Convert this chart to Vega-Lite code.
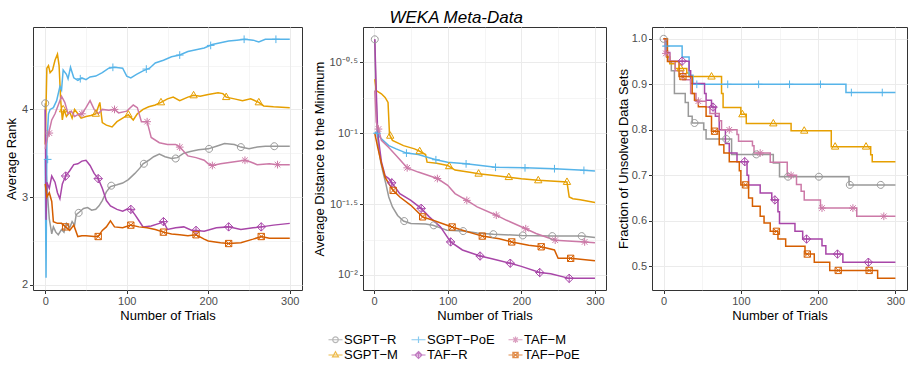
{
"$schema": "https://vega.github.io/schema/vega-lite/v6.json",
"background": "white",
"padding": {"left": 4, "top": 8, "right": 0, "bottom": 0},
"title": {"text": "WEKA Meta-Data", "fontStyle": "italic", "fontSize": 17, "fontWeight": "normal", "font": "Liberation Sans", "anchor": "middle", "offset": 0, "color": "black"},
"config": {
  "font": "Liberation Sans",
  "view": {"stroke": "#333333", "strokeWidth": 1},
  "axis": {"domain": false, "tickColor": "#333333", "tickSize": 3.5, "labelColor": "#4d4d4d", "labelFontSize": 11, "labelFont": "Liberation Sans", "titleFont": "Liberation Sans", "titleFontSize": 13, "titleFontWeight": "normal", "titleColor": "black", "gridColor": "#ebebeb", "labelPadding": 2, "titlePadding": 3}
},
"spacing": 9,
"resolve": {"scale": {"color": "independent", "shape": "independent"}, "legend": {"color": "independent", "shape": "independent"}},
"datasets": {
"a": [
{"m":"SGPT-R","t":0,"v":4.07},{"m":"SGPT-R","t":1,"v":3.3},{"m":"SGPT-R","t":3,"v":3.0},{"m":"SGPT-R","t":5,"v":2.75},{"m":"SGPT-R","t":8,"v":2.58},{"m":"SGPT-R","t":10,"v":2.66},{"m":"SGPT-R","t":13,"v":2.6},{"m":"SGPT-R","t":16,"v":2.57},{"m":"SGPT-R","t":20,"v":2.63},{"m":"SGPT-R","t":23,"v":2.6},{"m":"SGPT-R","t":26,"v":2.7},{"m":"SGPT-R","t":30,"v":2.65},{"m":"SGPT-R","t":33,"v":2.72},{"m":"SGPT-R","t":36,"v":2.68},{"m":"SGPT-R","t":38,"v":2.8},{"m":"SGPT-R","t":42,"v":2.83},{"m":"SGPT-R","t":47,"v":2.87},{"m":"SGPT-R","t":52,"v":2.88},{"m":"SGPT-R","t":57,"v":2.85},{"m":"SGPT-R","t":62,"v":2.86},{"m":"SGPT-R","t":66,"v":2.9},{"m":"SGPT-R","t":70,"v":2.96},{"m":"SGPT-R","t":75,"v":3.06},{"m":"SGPT-R","t":80,"v":3.12},{"m":"SGPT-R","t":88,"v":3.14},{"m":"SGPT-R","t":95,"v":3.16},{"m":"SGPT-R","t":102,"v":3.2},{"m":"SGPT-R","t":110,"v":3.27},{"m":"SGPT-R","t":116,"v":3.33},{"m":"SGPT-R","t":120,"v":3.38},{"m":"SGPT-R","t":127,"v":3.42},{"m":"SGPT-R","t":133,"v":3.46},{"m":"SGPT-R","t":140,"v":3.49},{"m":"SGPT-R","t":147,"v":3.46},{"m":"SGPT-R","t":155,"v":3.44},{"m":"SGPT-R","t":162,"v":3.45},{"m":"SGPT-R","t":170,"v":3.5},{"m":"SGPT-R","t":178,"v":3.52},{"m":"SGPT-R","t":188,"v":3.54},{"m":"SGPT-R","t":200,"v":3.55},{"m":"SGPT-R","t":210,"v":3.58},{"m":"SGPT-R","t":220,"v":3.61},{"m":"SGPT-R","t":232,"v":3.6},{"m":"SGPT-R","t":240,"v":3.57},{"m":"SGPT-R","t":250,"v":3.55},{"m":"SGPT-R","t":260,"v":3.57},{"m":"SGPT-R","t":270,"v":3.58},{"m":"SGPT-R","t":300,"v":3.58},
{"m":"SGPT-M","t":0,"v":3.6},{"m":"SGPT-M","t":2,"v":4.47},{"m":"SGPT-M","t":4,"v":4.5},{"m":"SGPT-M","t":6,"v":4.42},{"m":"SGPT-M","t":9,"v":4.45},{"m":"SGPT-M","t":12,"v":4.56},{"m":"SGPT-M","t":15,"v":4.63},{"m":"SGPT-M","t":17,"v":4.5},{"m":"SGPT-M","t":19,"v":4.1},{"m":"SGPT-M","t":21,"v":3.88},{"m":"SGPT-M","t":23,"v":4.0},{"m":"SGPT-M","t":26,"v":3.92},{"m":"SGPT-M","t":30,"v":3.97},{"m":"SGPT-M","t":33,"v":3.9},{"m":"SGPT-M","t":36,"v":4.0},{"m":"SGPT-M","t":40,"v":3.95},{"m":"SGPT-M","t":44,"v":3.9},{"m":"SGPT-M","t":50,"v":3.92},{"m":"SGPT-M","t":56,"v":3.93},{"m":"SGPT-M","t":62,"v":3.95},{"m":"SGPT-M","t":67,"v":4.08},{"m":"SGPT-M","t":70,"v":3.85},{"m":"SGPT-M","t":75,"v":3.82},{"m":"SGPT-M","t":82,"v":3.8},{"m":"SGPT-M","t":88,"v":3.86},{"m":"SGPT-M","t":95,"v":3.9},{"m":"SGPT-M","t":102,"v":3.94},{"m":"SGPT-M","t":108,"v":3.88},{"m":"SGPT-M","t":113,"v":3.95},{"m":"SGPT-M","t":120,"v":4.0},{"m":"SGPT-M","t":127,"v":4.03},{"m":"SGPT-M","t":135,"v":4.05},{"m":"SGPT-M","t":142,"v":4.08},{"m":"SGPT-M","t":150,"v":4.12},{"m":"SGPT-M","t":157,"v":4.14},{"m":"SGPT-M","t":165,"v":4.1},{"m":"SGPT-M","t":175,"v":4.14},{"m":"SGPT-M","t":182,"v":4.16},{"m":"SGPT-M","t":190,"v":4.15},{"m":"SGPT-M","t":200,"v":4.17},{"m":"SGPT-M","t":212,"v":4.19},{"m":"SGPT-M","t":218,"v":4.18},{"m":"SGPT-M","t":222,"v":4.14},{"m":"SGPT-M","t":232,"v":4.12},{"m":"SGPT-M","t":242,"v":4.1},{"m":"SGPT-M","t":252,"v":4.12},{"m":"SGPT-M","t":262,"v":4.08},{"m":"SGPT-M","t":268,"v":4.04},{"m":"SGPT-M","t":280,"v":4.03},{"m":"SGPT-M","t":300,"v":4.02},
{"m":"SGPT-PoE","t":0,"v":3.43},{"m":"SGPT-PoE","t":1,"v":2.08},{"m":"SGPT-PoE","t":2,"v":3.6},{"m":"SGPT-PoE","t":4,"v":3.95},{"m":"SGPT-PoE","t":6,"v":4.0},{"m":"SGPT-PoE","t":10,"v":4.02},{"m":"SGPT-PoE","t":14,"v":4.1},{"m":"SGPT-PoE","t":18,"v":4.26},{"m":"SGPT-PoE","t":20,"v":4.22},{"m":"SGPT-PoE","t":22,"v":4.45},{"m":"SGPT-PoE","t":26,"v":4.4},{"m":"SGPT-PoE","t":28,"v":4.35},{"m":"SGPT-PoE","t":31,"v":4.48},{"m":"SGPT-PoE","t":35,"v":4.36},{"m":"SGPT-PoE","t":40,"v":4.33},{"m":"SGPT-PoE","t":45,"v":4.36},{"m":"SGPT-PoE","t":50,"v":4.34},{"m":"SGPT-PoE","t":55,"v":4.37},{"m":"SGPT-PoE","t":62,"v":4.38},{"m":"SGPT-PoE","t":70,"v":4.42},{"m":"SGPT-PoE","t":78,"v":4.47},{"m":"SGPT-PoE","t":85,"v":4.48},{"m":"SGPT-PoE","t":95,"v":4.47},{"m":"SGPT-PoE","t":100,"v":4.38},{"m":"SGPT-PoE","t":105,"v":4.36},{"m":"SGPT-PoE","t":112,"v":4.4},{"m":"SGPT-PoE","t":120,"v":4.44},{"m":"SGPT-PoE","t":128,"v":4.47},{"m":"SGPT-PoE","t":135,"v":4.53},{"m":"SGPT-PoE","t":145,"v":4.56},{"m":"SGPT-PoE","t":155,"v":4.6},{"m":"SGPT-PoE","t":165,"v":4.62},{"m":"SGPT-PoE","t":175,"v":4.66},{"m":"SGPT-PoE","t":185,"v":4.68},{"m":"SGPT-PoE","t":195,"v":4.7},{"m":"SGPT-PoE","t":205,"v":4.74},{"m":"SGPT-PoE","t":215,"v":4.76},{"m":"SGPT-PoE","t":225,"v":4.78},{"m":"SGPT-PoE","t":235,"v":4.79},{"m":"SGPT-PoE","t":245,"v":4.8},{"m":"SGPT-PoE","t":255,"v":4.79},{"m":"SGPT-PoE","t":262,"v":4.77},{"m":"SGPT-PoE","t":270,"v":4.8},{"m":"SGPT-PoE","t":300,"v":4.8},
{"m":"TAF-R","t":0,"v":4.0},{"m":"TAF-R","t":1,"v":2.74},{"m":"TAF-R","t":2,"v":3.17},{"m":"TAF-R","t":5,"v":3.1},{"m":"TAF-R","t":8,"v":3.24},{"m":"TAF-R","t":12,"v":3.17},{"m":"TAF-R","t":15,"v":3.05},{"m":"TAF-R","t":18,"v":2.98},{"m":"TAF-R","t":21,"v":3.15},{"m":"TAF-R","t":25,"v":3.24},{"m":"TAF-R","t":30,"v":3.3},{"m":"TAF-R","t":35,"v":3.37},{"m":"TAF-R","t":40,"v":3.38},{"m":"TAF-R","t":45,"v":3.41},{"m":"TAF-R","t":50,"v":3.42},{"m":"TAF-R","t":55,"v":3.36},{"m":"TAF-R","t":60,"v":3.27},{"m":"TAF-R","t":65,"v":3.21},{"m":"TAF-R","t":70,"v":3.1},{"m":"TAF-R","t":75,"v":2.96},{"m":"TAF-R","t":80,"v":2.9},{"m":"TAF-R","t":88,"v":2.86},{"m":"TAF-R","t":95,"v":2.84},{"m":"TAF-R","t":100,"v":2.86},{"m":"TAF-R","t":105,"v":2.86},{"m":"TAF-R","t":110,"v":2.8},{"m":"TAF-R","t":115,"v":2.73},{"m":"TAF-R","t":120,"v":2.66},{"m":"TAF-R","t":130,"v":2.67},{"m":"TAF-R","t":140,"v":2.7},{"m":"TAF-R","t":145,"v":2.72},{"m":"TAF-R","t":150,"v":2.63},{"m":"TAF-R","t":160,"v":2.65},{"m":"TAF-R","t":170,"v":2.66},{"m":"TAF-R","t":180,"v":2.62},{"m":"TAF-R","t":185,"v":2.62},{"m":"TAF-R","t":195,"v":2.61},{"m":"TAF-R","t":210,"v":2.65},{"m":"TAF-R","t":225,"v":2.66},{"m":"TAF-R","t":240,"v":2.63},{"m":"TAF-R","t":255,"v":2.65},{"m":"TAF-R","t":265,"v":2.66},{"m":"TAF-R","t":280,"v":2.68},{"m":"TAF-R","t":300,"v":2.7},
{"m":"TAF-M","t":0,"v":3.55},{"m":"TAF-M","t":2,"v":3.65},{"m":"TAF-M","t":4,"v":3.72},{"m":"TAF-M","t":8,"v":3.88},{"m":"TAF-M","t":12,"v":3.95},{"m":"TAF-M","t":16,"v":4.05},{"m":"TAF-M","t":20,"v":4.15},{"m":"TAF-M","t":24,"v":4.08},{"m":"TAF-M","t":28,"v":3.95},{"m":"TAF-M","t":32,"v":3.98},{"m":"TAF-M","t":36,"v":3.92},{"m":"TAF-M","t":40,"v":3.94},{"m":"TAF-M","t":45,"v":3.95},{"m":"TAF-M","t":50,"v":4.02},{"m":"TAF-M","t":55,"v":4.1},{"m":"TAF-M","t":60,"v":4.0},{"m":"TAF-M","t":65,"v":3.95},{"m":"TAF-M","t":70,"v":4.0},{"m":"TAF-M","t":78,"v":3.99},{"m":"TAF-M","t":85,"v":4.0},{"m":"TAF-M","t":90,"v":3.96},{"m":"TAF-M","t":100,"v":3.98},{"m":"TAF-M","t":108,"v":4.05},{"m":"TAF-M","t":113,"v":4.02},{"m":"TAF-M","t":118,"v":3.86},{"m":"TAF-M","t":125,"v":3.86},{"m":"TAF-M","t":130,"v":3.68},{"m":"TAF-M","t":140,"v":3.62},{"m":"TAF-M","t":150,"v":3.6},{"m":"TAF-M","t":160,"v":3.6},{"m":"TAF-M","t":165,"v":3.57},{"m":"TAF-M","t":175,"v":3.47},{"m":"TAF-M","t":185,"v":3.45},{"m":"TAF-M","t":195,"v":3.42},{"m":"TAF-M","t":200,"v":3.38},{"m":"TAF-M","t":205,"v":3.36},{"m":"TAF-M","t":215,"v":3.38},{"m":"TAF-M","t":230,"v":3.4},{"m":"TAF-M","t":245,"v":3.42},{"m":"TAF-M","t":252,"v":3.4},{"m":"TAF-M","t":260,"v":3.37},{"m":"TAF-M","t":275,"v":3.38},{"m":"TAF-M","t":285,"v":3.37},{"m":"TAF-M","t":300,"v":3.37},
{"m":"TAF-PoE","t":0,"v":3.15},{"m":"TAF-PoE","t":2,"v":3.0},{"m":"TAF-PoE","t":5,"v":3.05},{"m":"TAF-PoE","t":8,"v":2.95},{"m":"TAF-PoE","t":10,"v":2.72},{"m":"TAF-PoE","t":15,"v":2.7},{"m":"TAF-PoE","t":20,"v":2.7},{"m":"TAF-PoE","t":25,"v":2.66},{"m":"TAF-PoE","t":30,"v":2.62},{"m":"TAF-PoE","t":35,"v":2.68},{"m":"TAF-PoE","t":40,"v":2.55},{"m":"TAF-PoE","t":45,"v":2.56},{"m":"TAF-PoE","t":50,"v":2.56},{"m":"TAF-PoE","t":60,"v":2.55},{"m":"TAF-PoE","t":65,"v":2.55},{"m":"TAF-PoE","t":70,"v":2.62},{"m":"TAF-PoE","t":75,"v":2.66},{"m":"TAF-PoE","t":80,"v":2.73},{"m":"TAF-PoE","t":85,"v":2.66},{"m":"TAF-PoE","t":95,"v":2.65},{"m":"TAF-PoE","t":105,"v":2.68},{"m":"TAF-PoE","t":115,"v":2.66},{"m":"TAF-PoE","t":125,"v":2.65},{"m":"TAF-PoE","t":135,"v":2.63},{"m":"TAF-PoE","t":145,"v":2.6},{"m":"TAF-PoE","t":155,"v":2.58},{"m":"TAF-PoE","t":165,"v":2.57},{"m":"TAF-PoE","t":175,"v":2.56},{"m":"TAF-PoE","t":185,"v":2.57},{"m":"TAF-PoE","t":195,"v":2.52},{"m":"TAF-PoE","t":200,"v":2.5},{"m":"TAF-PoE","t":215,"v":2.48},{"m":"TAF-PoE","t":225,"v":2.47},{"m":"TAF-PoE","t":240,"v":2.48},{"m":"TAF-PoE","t":255,"v":2.52},{"m":"TAF-PoE","t":265,"v":2.55},{"m":"TAF-PoE","t":275,"v":2.53},{"m":"TAF-PoE","t":300,"v":2.53}
],
"ma": [
{"m":"SGPT-R","t":0,"v":4.07},{"m":"SGPT-R","t":41,"v":2.82},{"m":"SGPT-R","t":81,"v":3.13},{"m":"SGPT-R","t":121,"v":3.38},{"m":"SGPT-R","t":160,"v":3.44},{"m":"SGPT-R","t":201,"v":3.55},{"m":"SGPT-R","t":240,"v":3.57},{"m":"SGPT-R","t":281,"v":3.58},
{"m":"SGPT-M","t":22,"v":4.0},{"m":"SGPT-M","t":62,"v":3.95},{"m":"SGPT-M","t":102,"v":3.94},{"m":"SGPT-M","t":142,"v":4.08},{"m":"SGPT-M","t":182,"v":4.16},{"m":"SGPT-M","t":222,"v":4.14},{"m":"SGPT-M","t":262,"v":4.08},
{"m":"SGPT-PoE","t":3,"v":3.43},{"m":"SGPT-PoE","t":43,"v":4.35},{"m":"SGPT-PoE","t":83,"v":4.48},{"m":"SGPT-PoE","t":124,"v":4.46},{"m":"SGPT-PoE","t":165,"v":4.62},{"m":"SGPT-PoE","t":203,"v":4.73},{"m":"SGPT-PoE","t":244,"v":4.8},{"m":"SGPT-PoE","t":283,"v":4.8},
{"m":"TAF-R","t":25,"v":3.24},{"m":"TAF-R","t":65,"v":3.21},{"m":"TAF-R","t":105,"v":2.86},{"m":"TAF-R","t":145,"v":2.72},{"m":"TAF-R","t":185,"v":2.62},{"m":"TAF-R","t":225,"v":2.66},{"m":"TAF-R","t":265,"v":2.66},
{"m":"TAF-M","t":5,"v":3.73},{"m":"TAF-M","t":45,"v":3.95},{"m":"TAF-M","t":85,"v":4.0},{"m":"TAF-M","t":125,"v":3.86},{"m":"TAF-M","t":165,"v":3.57},{"m":"TAF-M","t":205,"v":3.36},{"m":"TAF-M","t":245,"v":3.42},{"m":"TAF-M","t":285,"v":3.37},
{"m":"TAF-PoE","t":25,"v":2.66},{"m":"TAF-PoE","t":65,"v":2.55},{"m":"TAF-PoE","t":105,"v":2.68},{"m":"TAF-PoE","t":145,"v":2.6},{"m":"TAF-PoE","t":185,"v":2.57},{"m":"TAF-PoE","t":225,"v":2.47},{"m":"TAF-PoE","t":265,"v":2.55}
],
"b": [
{"m":"SGPT-R","t":1,"v":0.46},{"m":"SGPT-R","t":2,"v":0.25},{"m":"SGPT-R","t":4,"v":0.112},{"m":"SGPT-R","t":6,"v":0.079},{"m":"SGPT-R","t":9,"v":0.063},{"m":"SGPT-R","t":12,"v":0.0537},{"m":"SGPT-R","t":16,"v":0.0441},{"m":"SGPT-R","t":20,"v":0.0355},{"m":"SGPT-R","t":25,"v":0.0302},{"m":"SGPT-R","t":32,"v":0.0263},{"m":"SGPT-R","t":40,"v":0.024},{"m":"SGPT-R","t":50,"v":0.0231},{"m":"SGPT-R","t":70,"v":0.0229},{"m":"SGPT-R","t":80,"v":0.0224},{"m":"SGPT-R","t":90,"v":0.0215},{"m":"SGPT-R","t":99,"v":0.0207},{"m":"SGPT-R","t":121,"v":0.0204},{"m":"SGPT-R","t":140,"v":0.0198},{"m":"SGPT-R","t":162,"v":0.0194},{"m":"SGPT-R","t":200,"v":0.019},{"m":"SGPT-R","t":242,"v":0.0188},{"m":"SGPT-R","t":282,"v":0.0188},{"m":"SGPT-R","t":300,"v":0.0184},
{"m":"SGPT-M","t":1,"v":0.241},{"m":"SGPT-M","t":3,"v":0.2},{"m":"SGPT-M","t":10,"v":0.19},{"m":"SGPT-M","t":15,"v":0.179},{"m":"SGPT-M","t":19,"v":0.165},{"m":"SGPT-M","t":21,"v":0.098},{"m":"SGPT-M","t":25,"v":0.0891},{"m":"SGPT-M","t":40,"v":0.0818},{"m":"SGPT-M","t":55,"v":0.0776},{"m":"SGPT-M","t":62,"v":0.0746},{"m":"SGPT-M","t":70,"v":0.0708},{"m":"SGPT-M","t":72,"v":0.0625},{"m":"SGPT-M","t":85,"v":0.0615},{"m":"SGPT-M","t":100,"v":0.0593},{"m":"SGPT-M","t":110,"v":0.055},{"m":"SGPT-M","t":130,"v":0.053},{"m":"SGPT-M","t":142,"v":0.0518},{"m":"SGPT-M","t":160,"v":0.0505},{"m":"SGPT-M","t":183,"v":0.049},{"m":"SGPT-M","t":200,"v":0.0477},{"m":"SGPT-M","t":223,"v":0.0465},{"m":"SGPT-M","t":262,"v":0.0453},{"m":"SGPT-M","t":265,"v":0.0355},{"m":"SGPT-M","t":270,"v":0.0345},{"m":"SGPT-M","t":280,"v":0.0339},{"m":"SGPT-M","t":300,"v":0.0324},
{"m":"SGPT-PoE","t":1,"v":0.1016},{"m":"SGPT-PoE","t":4,"v":0.1},{"m":"SGPT-PoE","t":10,"v":0.0912},{"m":"SGPT-PoE","t":20,"v":0.0818},{"m":"SGPT-PoE","t":30,"v":0.0776},{"m":"SGPT-PoE","t":44,"v":0.0724},{"m":"SGPT-PoE","t":60,"v":0.0708},{"m":"SGPT-PoE","t":84,"v":0.065},{"m":"SGPT-PoE","t":100,"v":0.0625},{"m":"SGPT-PoE","t":125,"v":0.0608},{"m":"SGPT-PoE","t":165,"v":0.0575},{"m":"SGPT-PoE","t":205,"v":0.057},{"m":"SGPT-PoE","t":245,"v":0.0562},{"m":"SGPT-PoE","t":285,"v":0.0547},{"m":"SGPT-PoE","t":300,"v":0.0541},
{"m":"TAF-R","t":1,"v":0.46},{"m":"TAF-R","t":3,"v":0.2},{"m":"TAF-R","t":5,"v":0.1},{"m":"TAF-R","t":10,"v":0.0631},{"m":"TAF-R","t":15,"v":0.0501},{"m":"TAF-R","t":20,"v":0.0479},{"m":"TAF-R","t":24,"v":0.0447},{"m":"TAF-R","t":35,"v":0.0374},{"m":"TAF-R","t":50,"v":0.0336},{"m":"TAF-R","t":64,"v":0.0295},{"m":"TAF-R","t":75,"v":0.0257},{"m":"TAF-R","t":90,"v":0.0219},{"m":"TAF-R","t":104,"v":0.0171},{"m":"TAF-R","t":120,"v":0.015},{"m":"TAF-R","t":144,"v":0.0136},{"m":"TAF-R","t":160,"v":0.013},{"m":"TAF-R","t":185,"v":0.0121},{"m":"TAF-R","t":200,"v":0.0115},{"m":"TAF-R","t":225,"v":0.0104},{"m":"TAF-R","t":240,"v":0.0102},{"m":"TAF-R","t":265,"v":0.00946},{"m":"TAF-R","t":300,"v":0.00946},
{"m":"TAF-M","t":1,"v":0.2},{"m":"TAF-M","t":3,"v":0.12},{"m":"TAF-M","t":6,"v":0.107},{"m":"TAF-M","t":10,"v":0.0891},{"m":"TAF-M","t":20,"v":0.0794},{"m":"TAF-M","t":30,"v":0.0697},{"m":"TAF-M","t":45,"v":0.057},{"m":"TAF-M","t":60,"v":0.0532},{"m":"TAF-M","t":86,"v":0.0479},{"m":"TAF-M","t":100,"v":0.0429},{"m":"TAF-M","t":110,"v":0.0375},{"m":"TAF-M","t":126,"v":0.0336},{"m":"TAF-M","t":140,"v":0.0302},{"m":"TAF-M","t":166,"v":0.0264},{"m":"TAF-M","t":180,"v":0.0243},{"m":"TAF-M","t":206,"v":0.0212},{"m":"TAF-M","t":220,"v":0.0196},{"m":"TAF-M","t":246,"v":0.0176},{"m":"TAF-M","t":286,"v":0.0171},{"m":"TAF-M","t":300,"v":0.0169},
{"m":"TAF-PoE","t":1,"v":0.1},{"m":"TAF-PoE","t":5,"v":0.0794},{"m":"TAF-PoE","t":10,"v":0.061},{"m":"TAF-PoE","t":15,"v":0.049},{"m":"TAF-PoE","t":20,"v":0.0441},{"m":"TAF-PoE","t":26,"v":0.0395},{"m":"TAF-PoE","t":35,"v":0.0355},{"m":"TAF-PoE","t":50,"v":0.031},{"m":"TAF-PoE","t":66,"v":0.0257},{"m":"TAF-PoE","t":80,"v":0.0243},{"m":"TAF-PoE","t":106,"v":0.0218},{"m":"TAF-PoE","t":120,"v":0.0207},{"m":"TAF-PoE","t":147,"v":0.0188},{"m":"TAF-PoE","t":170,"v":0.018},{"m":"TAF-PoE","t":187,"v":0.0171},{"m":"TAF-PoE","t":210,"v":0.0162},{"m":"TAF-PoE","t":227,"v":0.0158},{"m":"TAF-PoE","t":245,"v":0.015},{"m":"TAF-PoE","t":250,"v":0.0131},{"m":"TAF-PoE","t":267,"v":0.0131},{"m":"TAF-PoE","t":300,"v":0.0126}
],
"mb": [
{"m":"SGPT-R","t":1,"v":0.46},{"m":"SGPT-R","t":41,"v":0.024},{"m":"SGPT-R","t":81,"v":0.0224},{"m":"SGPT-R","t":121,"v":0.0204},{"m":"SGPT-R","t":162,"v":0.0194},{"m":"SGPT-R","t":202,"v":0.019},{"m":"SGPT-R","t":242,"v":0.0188},{"m":"SGPT-R","t":282,"v":0.0188},
{"m":"SGPT-M","t":22,"v":0.096},{"m":"SGPT-M","t":62,"v":0.0746},{"m":"SGPT-M","t":102,"v":0.0585},{"m":"SGPT-M","t":142,"v":0.0518},{"m":"SGPT-M","t":183,"v":0.049},{"m":"SGPT-M","t":223,"v":0.0465},{"m":"SGPT-M","t":262,"v":0.0453},
{"m":"SGPT-PoE","t":4,"v":0.1},{"m":"SGPT-PoE","t":44,"v":0.0724},{"m":"SGPT-PoE","t":84,"v":0.065},{"m":"SGPT-PoE","t":125,"v":0.0608},{"m":"SGPT-PoE","t":165,"v":0.0575},{"m":"SGPT-PoE","t":205,"v":0.057},{"m":"SGPT-PoE","t":245,"v":0.0562},{"m":"SGPT-PoE","t":285,"v":0.0547},
{"m":"TAF-R","t":24,"v":0.0447},{"m":"TAF-R","t":64,"v":0.0295},{"m":"TAF-R","t":104,"v":0.0171},{"m":"TAF-R","t":144,"v":0.0136},{"m":"TAF-R","t":185,"v":0.0121},{"m":"TAF-R","t":225,"v":0.0104},{"m":"TAF-R","t":265,"v":0.00946},
{"m":"TAF-M","t":6,"v":0.107},{"m":"TAF-M","t":45,"v":0.057},{"m":"TAF-M","t":86,"v":0.0479},{"m":"TAF-M","t":126,"v":0.0336},{"m":"TAF-M","t":166,"v":0.0264},{"m":"TAF-M","t":206,"v":0.0212},{"m":"TAF-M","t":246,"v":0.0176},{"m":"TAF-M","t":286,"v":0.0171},
{"m":"TAF-PoE","t":26,"v":0.0395},{"m":"TAF-PoE","t":66,"v":0.0257},{"m":"TAF-PoE","t":106,"v":0.0218},{"m":"TAF-PoE","t":147,"v":0.0188},{"m":"TAF-PoE","t":187,"v":0.0171},{"m":"TAF-PoE","t":227,"v":0.0158},{"m":"TAF-PoE","t":267,"v":0.0131}
],
"c": [
{"m":"SGPT-R","t":0,"v":1.0},{"m":"SGPT-R","t":2,"v":0.985},{"m":"SGPT-R","t":4,"v":0.96},{"m":"SGPT-R","t":7,"v":0.95},{"m":"SGPT-R","t":10,"v":0.93},{"m":"SGPT-R","t":14,"v":0.88},{"m":"SGPT-R","t":28,"v":0.86},{"m":"SGPT-R","t":32,"v":0.83},{"m":"SGPT-R","t":37,"v":0.815},{"m":"SGPT-R","t":52,"v":0.8},{"m":"SGPT-R","t":55,"v":0.78},{"m":"SGPT-R","t":88,"v":0.746},{"m":"SGPT-R","t":142,"v":0.727},{"m":"SGPT-R","t":150,"v":0.697},{"m":"SGPT-R","t":240,"v":0.679},{"m":"SGPT-R","t":300,"v":0.679},
{"m":"SGPT-M","t":0,"v":1.0},{"m":"SGPT-M","t":4,"v":0.96},{"m":"SGPT-M","t":8,"v":0.945},{"m":"SGPT-M","t":15,"v":0.935},{"m":"SGPT-M","t":30,"v":0.925},{"m":"SGPT-M","t":33,"v":0.917},{"m":"SGPT-M","t":75,"v":0.88},{"m":"SGPT-M","t":77,"v":0.849},{"m":"SGPT-M","t":100,"v":0.834},{"m":"SGPT-M","t":107,"v":0.814},{"m":"SGPT-M","t":165,"v":0.798},{"m":"SGPT-M","t":217,"v":0.763},{"m":"SGPT-M","t":268,"v":0.745},{"m":"SGPT-M","t":270,"v":0.73},{"m":"SGPT-M","t":300,"v":0.73},
{"m":"SGPT-PoE","t":0,"v":0.984},{"m":"SGPT-PoE","t":24,"v":0.96},{"m":"SGPT-PoE","t":33,"v":0.92},{"m":"SGPT-PoE","t":38,"v":0.9},{"m":"SGPT-PoE","t":236,"v":0.882},{"m":"SGPT-PoE","t":300,"v":0.882},
{"m":"TAF-R","t":0,"v":1.0},{"m":"TAF-R","t":3,"v":0.97},{"m":"TAF-R","t":8,"v":0.951},{"m":"TAF-R","t":33,"v":0.93},{"m":"TAF-R","t":35,"v":0.902},{"m":"TAF-R","t":53,"v":0.88},{"m":"TAF-R","t":55,"v":0.865},{"m":"TAF-R","t":62,"v":0.85},{"m":"TAF-R","t":67,"v":0.83},{"m":"TAF-R","t":72,"v":0.8},{"m":"TAF-R","t":80,"v":0.77},{"m":"TAF-R","t":85,"v":0.749},{"m":"TAF-R","t":95,"v":0.73},{"m":"TAF-R","t":108,"v":0.7},{"m":"TAF-R","t":110,"v":0.679},{"m":"TAF-R","t":125,"v":0.661},{"m":"TAF-R","t":140,"v":0.646},{"m":"TAF-R","t":148,"v":0.62},{"m":"TAF-R","t":150,"v":0.594},{"m":"TAF-R","t":170,"v":0.577},{"m":"TAF-R","t":180,"v":0.56},{"m":"TAF-R","t":205,"v":0.545},{"m":"TAF-R","t":210,"v":0.527},{"m":"TAF-R","t":232,"v":0.509},{"m":"TAF-R","t":300,"v":0.509},
{"m":"TAF-M","t":0,"v":1.0},{"m":"TAF-M","t":2,"v":0.968},{"m":"TAF-M","t":8,"v":0.95},{"m":"TAF-M","t":15,"v":0.93},{"m":"TAF-M","t":25,"v":0.91},{"m":"TAF-M","t":35,"v":0.88},{"m":"TAF-M","t":42,"v":0.863},{"m":"TAF-M","t":55,"v":0.85},{"m":"TAF-M","t":60,"v":0.836},{"m":"TAF-M","t":72,"v":0.82},{"m":"TAF-M","t":75,"v":0.8},{"m":"TAF-M","t":95,"v":0.79},{"m":"TAF-M","t":97,"v":0.775},{"m":"TAF-M","t":115,"v":0.765},{"m":"TAF-M","t":117,"v":0.749},{"m":"TAF-M","t":138,"v":0.729},{"m":"TAF-M","t":160,"v":0.7},{"m":"TAF-M","t":172,"v":0.68},{"m":"TAF-M","t":178,"v":0.665},{"m":"TAF-M","t":182,"v":0.646},{"m":"TAF-M","t":203,"v":0.628},{"m":"TAF-M","t":250,"v":0.61},{"m":"TAF-M","t":300,"v":0.61},
{"m":"TAF-PoE","t":0,"v":1.0},{"m":"TAF-PoE","t":5,"v":0.95},{"m":"TAF-PoE","t":20,"v":0.917},{"m":"TAF-PoE","t":37,"v":0.88},{"m":"TAF-PoE","t":40,"v":0.865},{"m":"TAF-PoE","t":45,"v":0.851},{"m":"TAF-PoE","t":55,"v":0.83},{"m":"TAF-PoE","t":62,"v":0.797},{"m":"TAF-PoE","t":72,"v":0.767},{"m":"TAF-PoE","t":78,"v":0.749},{"m":"TAF-PoE","t":85,"v":0.73},{"m":"TAF-PoE","t":98,"v":0.71},{"m":"TAF-PoE","t":100,"v":0.679},{"m":"TAF-PoE","t":110,"v":0.65},{"m":"TAF-PoE","t":115,"v":0.632},{"m":"TAF-PoE","t":125,"v":0.61},{"m":"TAF-PoE","t":130,"v":0.595},{"m":"TAF-PoE","t":138,"v":0.577},{"m":"TAF-PoE","t":148,"v":0.56},{"m":"TAF-PoE","t":158,"v":0.544},{"m":"TAF-PoE","t":183,"v":0.527},{"m":"TAF-PoE","t":195,"v":0.509},{"m":"TAF-PoE","t":215,"v":0.491},{"m":"TAF-PoE","t":277,"v":0.474},{"m":"TAF-PoE","t":300,"v":0.474}
],
"mc": [
{"m":"SGPT-R","t":0,"v":1.0},{"m":"SGPT-R","t":40,"v":0.815},{"m":"SGPT-R","t":81,"v":0.78},{"m":"SGPT-R","t":120,"v":0.746},{"m":"SGPT-R","t":161,"v":0.697},{"m":"SGPT-R","t":201,"v":0.697},{"m":"SGPT-R","t":241,"v":0.679},{"m":"SGPT-R","t":281,"v":0.679},
{"m":"SGPT-M","t":22,"v":0.935},{"m":"SGPT-M","t":62,"v":0.917},{"m":"SGPT-M","t":102,"v":0.834},{"m":"SGPT-M","t":142,"v":0.814},{"m":"SGPT-M","t":182,"v":0.798},{"m":"SGPT-M","t":222,"v":0.763},{"m":"SGPT-M","t":262,"v":0.763},
{"m":"SGPT-PoE","t":3,"v":0.984},{"m":"SGPT-PoE","t":43,"v":0.9},{"m":"SGPT-PoE","t":83,"v":0.9},{"m":"SGPT-PoE","t":123,"v":0.9},{"m":"SGPT-PoE","t":163,"v":0.9},{"m":"SGPT-PoE","t":203,"v":0.9},{"m":"SGPT-PoE","t":243,"v":0.882},{"m":"SGPT-PoE","t":283,"v":0.882},
{"m":"TAF-R","t":24,"v":0.951},{"m":"TAF-R","t":64,"v":0.85},{"m":"TAF-R","t":105,"v":0.73},{"m":"TAF-R","t":144,"v":0.646},{"m":"TAF-R","t":185,"v":0.56},{"m":"TAF-R","t":225,"v":0.527},{"m":"TAF-R","t":265,"v":0.509},
{"m":"TAF-M","t":3,"v":0.968},{"m":"TAF-M","t":45,"v":0.863},{"m":"TAF-M","t":85,"v":0.8},{"m":"TAF-M","t":125,"v":0.749},{"m":"TAF-M","t":165,"v":0.7},{"m":"TAF-M","t":205,"v":0.628},{"m":"TAF-M","t":245,"v":0.628},{"m":"TAF-M","t":285,"v":0.61},
{"m":"TAF-PoE","t":25,"v":0.917},{"m":"TAF-PoE","t":66,"v":0.797},{"m":"TAF-PoE","t":106,"v":0.679},{"m":"TAF-PoE","t":146,"v":0.577},{"m":"TAF-PoE","t":186,"v":0.527},{"m":"TAF-PoE","t":226,"v":0.491},{"m":"TAF-PoE","t":266,"v":0.491}
]
},
"hconcat": [
{
 "width": 269, "height": 263,
 "layer": [
  {"data": {"name": "a"}, "mark": {"type": "line", "strokeWidth": 1.5},
   "encoding": {
    "x": {"field": "t", "type": "quantitative", "scale": {"domain": [-15, 315], "nice": false, "zero": false}, "axis": {"title": "Number of Trials", "values": [0, 50, 100, 150, 200, 250, 300], "labelExpr": "datum.value % 100 === 0 ? datum.label : ''", "gridWidth": {"condition": {"test": "datum.value % 100 === 0", "value": 1}, "value": 0.5}, "tickOpacity": {"condition": {"test": "datum.value % 100 === 0", "value": 1}, "value": 0}}},
    "y": {"field": "v", "type": "quantitative", "scale": {"domain": [1.94, 4.94], "nice": false, "zero": false}, "axis": {"title": "Average Rank", "values": [2, 2.5, 3, 3.5, 4, 4.5], "labelExpr": "datum.value % 1 === 0 ? format(datum.value, 'd') : ''", "gridWidth": {"condition": {"test": "datum.value % 1 === 0", "value": 1}, "value": 0.5}, "tickOpacity": {"condition": {"test": "datum.value % 1 === 0", "value": 1}, "value": 0}}},
    "color": {"field": "m", "type": "nominal", "scale": {"domain": ["SGPT-R","SGPT-PoE","TAF-M","SGPT-M","TAF-R","TAF-PoE"], "range": ["#999999","#56B4E9","#CC79A7","#E69F00","#A846A8","#D55E00"]}, "legend": null}
   }},
  {"data": {"name": "ma"}, "mark": {"type": "point", "filled": false, "strokeWidth": 1, "size": 49, "opacity": 1},
   "encoding": {
    "x": {"field": "t", "type": "quantitative"},
    "y": {"field": "v", "type": "quantitative"},
    "color": {"field": "m", "type": "nominal", "scale": {"domain": ["SGPT-R","SGPT-PoE","TAF-M","SGPT-M","TAF-R","TAF-PoE"], "range": ["#999999","#56B4E9","#CC79A7","#E69F00","#A846A8","#D55E00"]}, "legend": null},
    "shape": {"field": "m", "type": "nominal", "scale": {"domain": ["SGPT-R","SGPT-PoE","TAF-M","SGPT-M","TAF-R","TAF-PoE"], "range": ["M-1,0A1,1 0 1,0 1,0A1,1 0 1,0 -1,0Z","M-1.1,0L1.1,0M0,-1.1L0,1.1","M-1.1,0L1.1,0M0,-1.1L0,1.1M-0.8,-0.8L0.8,0.8M-0.8,0.8L0.8,-0.8","M0,-1.15L1.05,0.7L-1.05,0.7Z","M0,-1.2L1.2,0L0,1.2L-1.2,0ZM0,-1.2L0,1.2M-1.2,0L1.2,0","M-0.9,-0.9L0.9,-0.9L0.9,0.9L-0.9,0.9ZM-0.9,-0.9L0.9,0.9M-0.9,0.9L0.9,-0.9"]}, "legend": null}
   }}
 ]
},
{
 "width": 243, "height": 263,
 "resolve": {"scale": {"color": "independent", "shape": "independent"}, "legend": {"color": "independent", "shape": "independent"}},
 "layer": [
  {"data": {"name": "b"}, "mark": {"type": "line", "strokeWidth": 1.5},
   "encoding": {
    "x": {"field": "t", "type": "quantitative", "scale": {"domain": [-15, 315], "nice": false, "zero": false}, "axis": {"title": "Number of Trials", "values": [0, 50, 100, 150, 200, 250, 300], "labelExpr": "datum.value % 100 === 0 ? datum.label : ''", "gridWidth": {"condition": {"test": "datum.value % 100 === 0", "value": 1}, "value": 0.5}, "tickOpacity": {"condition": {"test": "datum.value % 100 === 0", "value": 1}, "value": 0}}},
    "y": {"field": "v", "type": "quantitative", "scale": {"type": "log", "domain": [0.00783, 0.562], "nice": false}, "axis": {"title": "Average Distance to the Minimum", "values": [0.01, 0.017783, 0.031623, 0.056234, 0.1, 0.177828, 0.316228], "labelExpr": "datum.value > 0.3 ? '10⁻⁰·⁵' : (datum.value > 0.09 && datum.value < 0.11) ? '10⁻¹' : (datum.value > 0.03 && datum.value < 0.033) ? '10⁻¹·⁵' : datum.value < 0.011 ? '10⁻²' : ''", "gridWidth": {"condition": {"test": "abs(log(datum.value)/LN10*2 - round(log(datum.value)/LN10*2)) < 0.01", "value": 1}, "value": 0.5}, "tickOpacity": {"condition": {"test": "abs(log(datum.value)/LN10*2 - round(log(datum.value)/LN10*2)) < 0.01", "value": 1}, "value": 0}}},
    "color": {"field": "m", "type": "nominal", "scale": {"domain": ["SGPT-R","SGPT-PoE","TAF-M","SGPT-M","TAF-R","TAF-PoE"], "range": ["#999999","#56B4E9","#CC79A7","#E69F00","#A846A8","#D55E00"]}, "legend": null}
   }},
  {"data": {"name": "mb"}, "mark": {"type": "point", "filled": false, "strokeWidth": 1, "size": 49, "opacity": 1},
   "encoding": {
    "x": {"field": "t", "type": "quantitative"},
    "y": {"field": "v", "type": "quantitative"},
    "color": {"field": "m", "type": "nominal", "scale": {"domain": ["SGPT-R","SGPT-PoE","TAF-M","SGPT-M","TAF-R","TAF-PoE"], "range": ["#999999","#56B4E9","#CC79A7","#E69F00","#A846A8","#D55E00"]}, "legend": null},
    "shape": {"field": "m", "type": "nominal", "scale": {"domain": ["SGPT-R","SGPT-PoE","TAF-M","SGPT-M","TAF-R","TAF-PoE"], "range": ["M-1,0A1,1 0 1,0 1,0A1,1 0 1,0 -1,0Z","M-1.1,0L1.1,0M0,-1.1L0,1.1","M-1.1,0L1.1,0M0,-1.1L0,1.1M-0.8,-0.8L0.8,0.8M-0.8,0.8L0.8,-0.8","M0,-1.15L1.05,0.7L-1.05,0.7Z","M0,-1.2L1.2,0L0,1.2L-1.2,0ZM0,-1.2L0,1.2M-1.2,0L1.2,0","M-0.9,-0.9L0.9,-0.9L0.9,0.9L-0.9,0.9ZM-0.9,-0.9L0.9,0.9M-0.9,0.9L0.9,-0.9"]}, "legend": null}
   }},
  {"data": {"name": "mb"}, "transform": [{"filter": "false"}], "mark": {"type": "point", "filled": false, "strokeWidth": 1, "size": 49},
   "encoding": {
    "color": {"field": "m", "type": "nominal", "scale": {"domain": ["SGPT-R","SGPT-PoE","TAF-M","SGPT-M","TAF-R","TAF-PoE"], "range": ["#999999","#56B4E9","#CC79A7","#E69F00","#A846A8","#D55E00"]},
      "legend": {"orient": "none", "legendX": -34, "legendY": 306, "direction": "horizontal", "columns": 3, "title": null, "labelFontSize": 13, "labelColor": "black", "labelFont": "Liberation Sans", "symbolSize": 49, "symbolStrokeWidth": 1.2, "labelOffset": 2, "columnPadding": 11, "rowPadding": 1.5, "padding": 0, "labelExpr": "replace(datum.label, '-', '−')"}},
    "shape": {"field": "m", "type": "nominal", "scale": {"domain": ["SGPT-R","SGPT-PoE","TAF-M","SGPT-M","TAF-R","TAF-PoE"], "range": ["M-0.8,0A0.8,0.8 0 1,0 0.8,0A0.8,0.8 0 1,0 -0.8,0ZM-2,0L2,0","M-0.9,0L0.9,0M0,-0.9L0,0.9M-2,0L2,0","M-0.9,0L0.9,0M0,-0.9L0,0.9M-0.65,-0.65L0.65,0.65M-0.65,0.65L0.65,-0.65M-2,0L2,0","M0,-0.95L0.85,0.55L-0.85,0.55ZM-2,0L2,0","M0,-1L1,0L0,1L-1,0ZM0,-1L0,1M-1,0L1,0M-2,0L2,0","M-0.75,-0.75L0.75,-0.75L0.75,0.75L-0.75,0.75ZM-0.75,-0.75L0.75,0.75M-0.75,0.75L0.75,-0.75M-2,0L2,0"]},
      "legend": {"orient": "none", "legendX": -34, "legendY": 306, "direction": "horizontal", "columns": 3, "title": null, "labelFontSize": 13, "labelColor": "black", "labelFont": "Liberation Sans", "symbolSize": 49, "symbolStrokeWidth": 1.2, "labelOffset": 2, "columnPadding": 11, "rowPadding": 1.5, "padding": 0, "labelExpr": "replace(datum.label, '-', '−')"}}
   }}
 ]
},
{
 "width": 255, "height": 263,
 "layer": [
  {"data": {"name": "c"}, "mark": {"type": "line", "strokeWidth": 1.5, "interpolate": "step-after"},
   "encoding": {
    "x": {"field": "t", "type": "quantitative", "scale": {"domain": [-15, 315], "nice": false, "zero": false}, "axis": {"title": "Number of Trials", "values": [0, 50, 100, 150, 200, 250, 300], "labelExpr": "datum.value % 100 === 0 ? datum.label : ''", "gridWidth": {"condition": {"test": "datum.value % 100 === 0", "value": 1}, "value": 0.5}, "tickOpacity": {"condition": {"test": "datum.value % 100 === 0", "value": 1}, "value": 0}}},
    "y": {"field": "v", "type": "quantitative", "scale": {"domain": [0.448, 1.026], "nice": false, "zero": false}, "axis": {"title": "Fraction of Unsolved Data Sets", "titlePadding": 1, "values": [0.5, 0.55, 0.6, 0.65, 0.7, 0.75, 0.8, 0.85, 0.9, 0.95, 1.0], "labelExpr": "abs(datum.value*10 - round(datum.value*10)) < 0.001 ? format(datum.value, '.1f') : ''", "gridWidth": {"condition": {"test": "abs(datum.value*10 - round(datum.value*10)) < 0.001", "value": 1}, "value": 0.5}, "tickOpacity": {"condition": {"test": "abs(datum.value*10 - round(datum.value*10)) < 0.001", "value": 1}, "value": 0}}},
    "color": {"field": "m", "type": "nominal", "scale": {"domain": ["SGPT-R","SGPT-PoE","TAF-M","SGPT-M","TAF-R","TAF-PoE"], "range": ["#999999","#56B4E9","#CC79A7","#E69F00","#A846A8","#D55E00"]}, "legend": null}
   }},
  {"data": {"name": "mc"}, "mark": {"type": "point", "filled": false, "strokeWidth": 1, "size": 49, "opacity": 1},
   "encoding": {
    "x": {"field": "t", "type": "quantitative"},
    "y": {"field": "v", "type": "quantitative"},
    "color": {"field": "m", "type": "nominal", "scale": {"domain": ["SGPT-R","SGPT-PoE","TAF-M","SGPT-M","TAF-R","TAF-PoE"], "range": ["#999999","#56B4E9","#CC79A7","#E69F00","#A846A8","#D55E00"]}, "legend": null},
    "shape": {"field": "m", "type": "nominal", "scale": {"domain": ["SGPT-R","SGPT-PoE","TAF-M","SGPT-M","TAF-R","TAF-PoE"], "range": ["M-1,0A1,1 0 1,0 1,0A1,1 0 1,0 -1,0Z","M-1.1,0L1.1,0M0,-1.1L0,1.1","M-1.1,0L1.1,0M0,-1.1L0,1.1M-0.8,-0.8L0.8,0.8M-0.8,0.8L0.8,-0.8","M0,-1.15L1.05,0.7L-1.05,0.7Z","M0,-1.2L1.2,0L0,1.2L-1.2,0ZM0,-1.2L0,1.2M-1.2,0L1.2,0","M-0.9,-0.9L0.9,-0.9L0.9,0.9L-0.9,0.9ZM-0.9,-0.9L0.9,0.9M-0.9,0.9L0.9,-0.9"]}, "legend": null}
   }}
 ]
}
]
}
